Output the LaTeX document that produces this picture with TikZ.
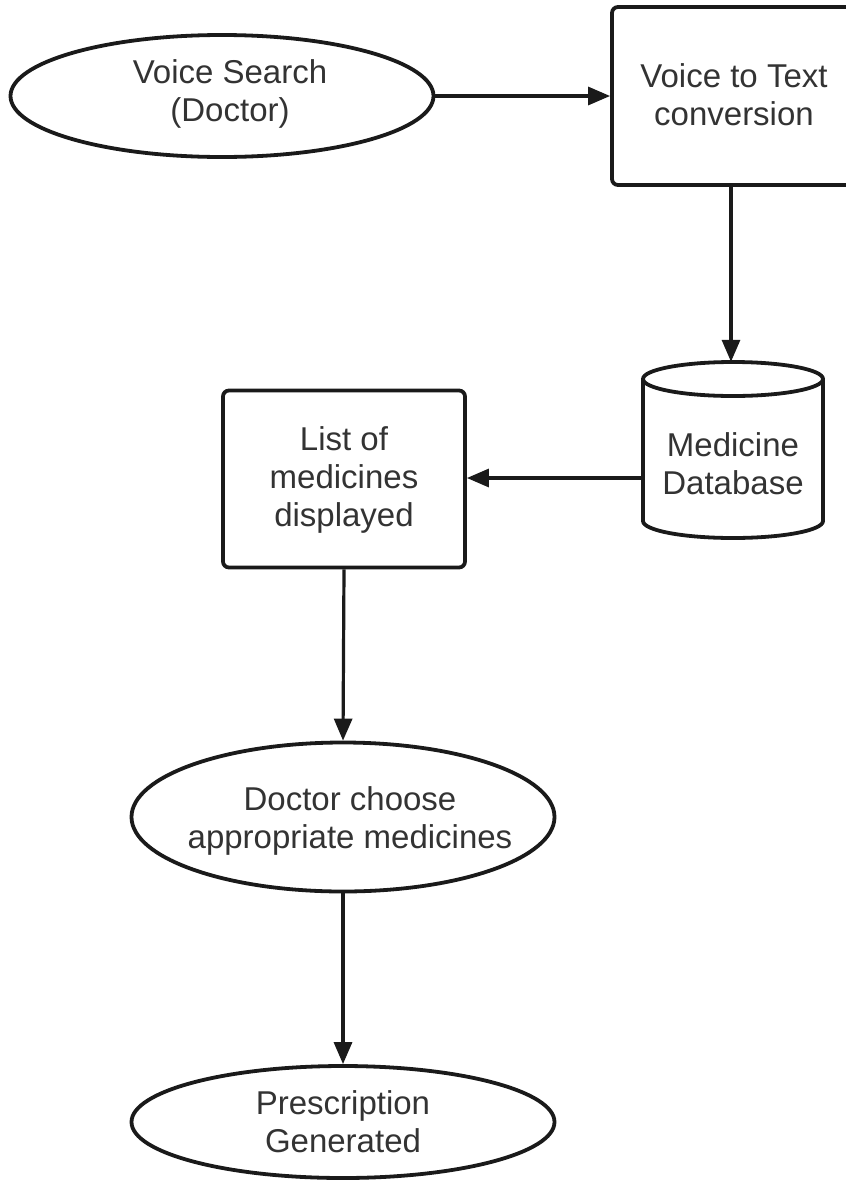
\documentclass[tikz,border=0pt]{standalone}
\usepackage{fontspec}
\setmainfont{Liberation Sans}
\usetikzlibrary{arrows.meta,shapes.geometric}
\definecolor{txt}{HTML}{333333}
\definecolor{ln}{HTML}{1A1A1A}
\tikzset{
  shapeline/.style={draw=ln, line width=3.8pt, fill=white},
  oval/.style={shapeline, ellipse, inner sep=0pt},
  procbox/.style={shapeline, rectangle, rounded corners=6pt, inner sep=0pt},
  label/.style={text=txt, align=center, inner sep=0pt, font=\fontsize{33}{38}\selectfont},
  flow/.style={draw=ln, line width=3.2pt, -{Triangle[length=22pt,width=18pt]}}
}
\begin{document}
\begin{tikzpicture}[x=1pt,y=-1pt]
\useasboundingbox (0,0) rectangle (846,1181);
\clip (0,0) rectangle (846,1181);
\fill[white] (0,0) rectangle (846,1181);
% nodes
\node[oval, minimum width=423pt, minimum height=122pt] (vs) at (222,96) {};
\node[label] (vst) at (230,94) {Voice Search\\(Doctor)};
\node[procbox, minimum width=244pt, minimum height=178pt] (vt) at (734,96) {};
\node[label] (vtt) at (734,95) {Voice to Text\\conversion};
% cylinder database
\node[minimum width=180pt, minimum height=176pt, inner sep=0pt] (db) at (733,450) {};
\draw[shapeline] (643,379) -- (643,521) arc[start angle=180, end angle=0, x radius=90, y radius=17] -- (823,379);
\draw[shapeline] (733,379) ellipse[x radius=90, y radius=17];
\node[label] (dbt) at (733,464) {Medicine\\Database};
\node[procbox, minimum width=242pt, minimum height=177pt] (lm) at (344,479) {};
\node[label] (lmt) at (344,480) {List of\\medicines\\displayed};
\node[oval, minimum width=423pt, minimum height=149pt] (dc) at (343,817) {};
\node[label] (dct) at (350,821) {Doctor choose\\appropriate medicines};
\node[oval, minimum width=423pt, minimum height=112pt] (pg) at (343,1122) {};
\node[label] (pgt) at (343,1122) {Prescription\\Generated};
% connectors
\draw[flow] (vs.east) -- (vt.west);
\draw[flow] (vt.south -| 731,0) -- (db.north -| 731,0);
\draw[flow] (db.west |- 0,478) -- (lm.east |- 0,478);
\draw[flow] (lm.south) -- (dc.north);
\draw[flow] (dc.south) -- (pg.north);
\end{tikzpicture}
\end{document}
